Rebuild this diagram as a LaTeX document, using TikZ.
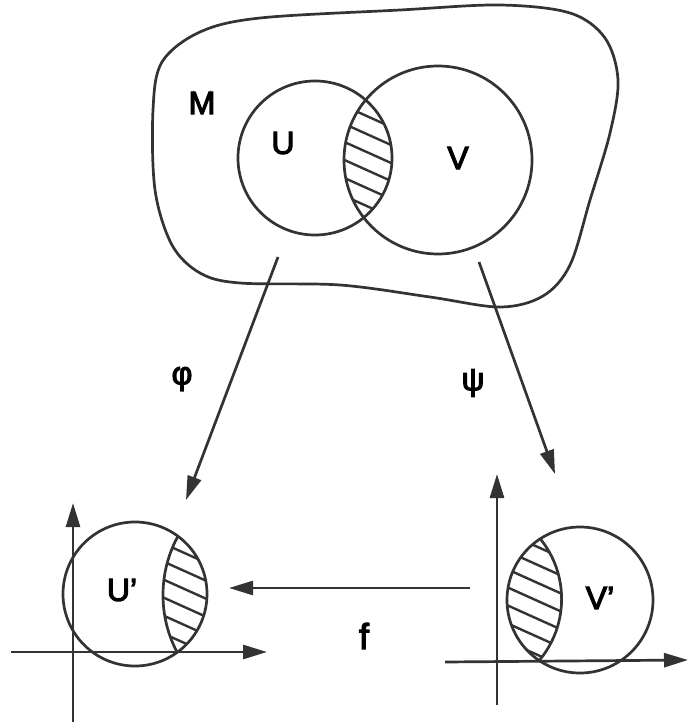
\documentclass[tikz,border=0pt]{standalone}
\usepackage{fontspec}
\setmainfont{Liberation Sans}
\newfontfamily\lblfont[FakeBold=3.5]{Liberation Sans}
\usetikzlibrary{arrows.meta}
\definecolor{ink}{HTML}{333333}
\begin{document}
\begin{tikzpicture}[x=1pt,y=-1pt,
  shp/.style={draw=ink, line width=2.7pt},
  ring/.style={circle, draw=ink, line width=2.7pt, inner sep=0pt, minimum size=#1},
  hatch/.style={draw=ink, line width=2.4pt},
  arr/.style={draw=ink, line width=2.7pt, -{Triangle[length=24pt,width=14pt]}},
  lbl/.style={font=\lblfont\fontsize{32}{35}\selectfont, text=black, inner sep=0pt}]
\useasboundingbox (0,0) rectangle (688,727);
% manifold M
\draw[shp] plot[smooth cycle, tension=0.55] coordinates {
  (155,190) (153,110) (162,62) (200,32) (260,18) (400,10) (500,5) (570,13)
  (605,38) (618,80) (610,133) (590,200) (570,265) (543,296) (500,307)
  (430,297) (340,285) (240,283) (200,273) (172,245)};
% hatching in U cap V
\begin{scope}
  \clip (315,158) circle (77);
  \clip (438,160) circle (94);
  \foreach \k in {-12,...,12}
    \draw[hatch] (220,158+\k*18) -- (520,158+\k*18+135);
\end{scope}
\node[ring=154pt] (U) at (315,158) {};
\node[ring=188pt] (V) at (438,160) {};
\node[lbl] (Mlab) at (202,103) {M};
\node[lbl] (Ulab) at (283,143) {U};
\node[lbl] (Vlab) at (458,158) {V};
% U' chart
\begin{scope}
  \clip (135,594) circle (72);
  \clip (286,595) circle (123);
  \foreach \k in {-12,...,12}
    \draw[hatch] (40,594+\k*18-70) -- (340,594+\k*18+65);
\end{scope}
\begin{scope}
  \clip (135,594) circle (72);
  \draw[shp] (286,595) circle (123);
\end{scope}
\node[ring=144pt] (Up) at (135,594) {};
\node[lbl] (Uplab) at (122,590) {U’};
\coordinate (uxs) at (11,652);
\coordinate (uxe) at (267,652);
\coordinate (uys) at (73,722);
\coordinate (uye) at (73,503);
\draw[arr] (uxs) -- (uxe);
\draw[arr] (uys) -- (uye);
% V' chart
\begin{scope}
  \clip (580,600) circle (73);
  \clip (466,599) circle (95.6);
  \foreach \k in {-12,...,12}
    \draw[hatch] (420,600+\k*18-70) -- (720,600+\k*18+65);
\end{scope}
\begin{scope}
  \clip (580,600) circle (73);
  \draw[shp] (466,599) circle (95.6);
\end{scope}
\node[ring=146pt] (Vp) at (580,600) {};
\node[lbl] (Vplab) at (600,598) {V’};
\coordinate (vxs) at (445,662);
\coordinate (vxe) at (688,660);
\coordinate (vys) at (497,705);
\coordinate (vye) at (497,474);
\draw[arr] (vxs) -- (vxe);
\draw[arr] (vys) -- (vye);
% maps
\coordinate (phis) at (278,257);
\coordinate (phie) at (186,500);
\coordinate (psis) at (479,262);
\coordinate (psie) at (555,474);
\coordinate (fs) at (470,588);
\coordinate (fe) at (229,588);
\draw[arr] (phis) -- (phie);
\draw[arr] (psis) -- (psie);
\draw[arr] (fs) -- (fe);
\node[lbl] (philab) at (182,379) {φ};
\node[lbl] (psilab) at (473,383) {ψ};
\node[lbl, font=\lblfont\fontsize{36}{40}\selectfont] (flab) at (364,636) {f};
\end{tikzpicture}
\end{document}
